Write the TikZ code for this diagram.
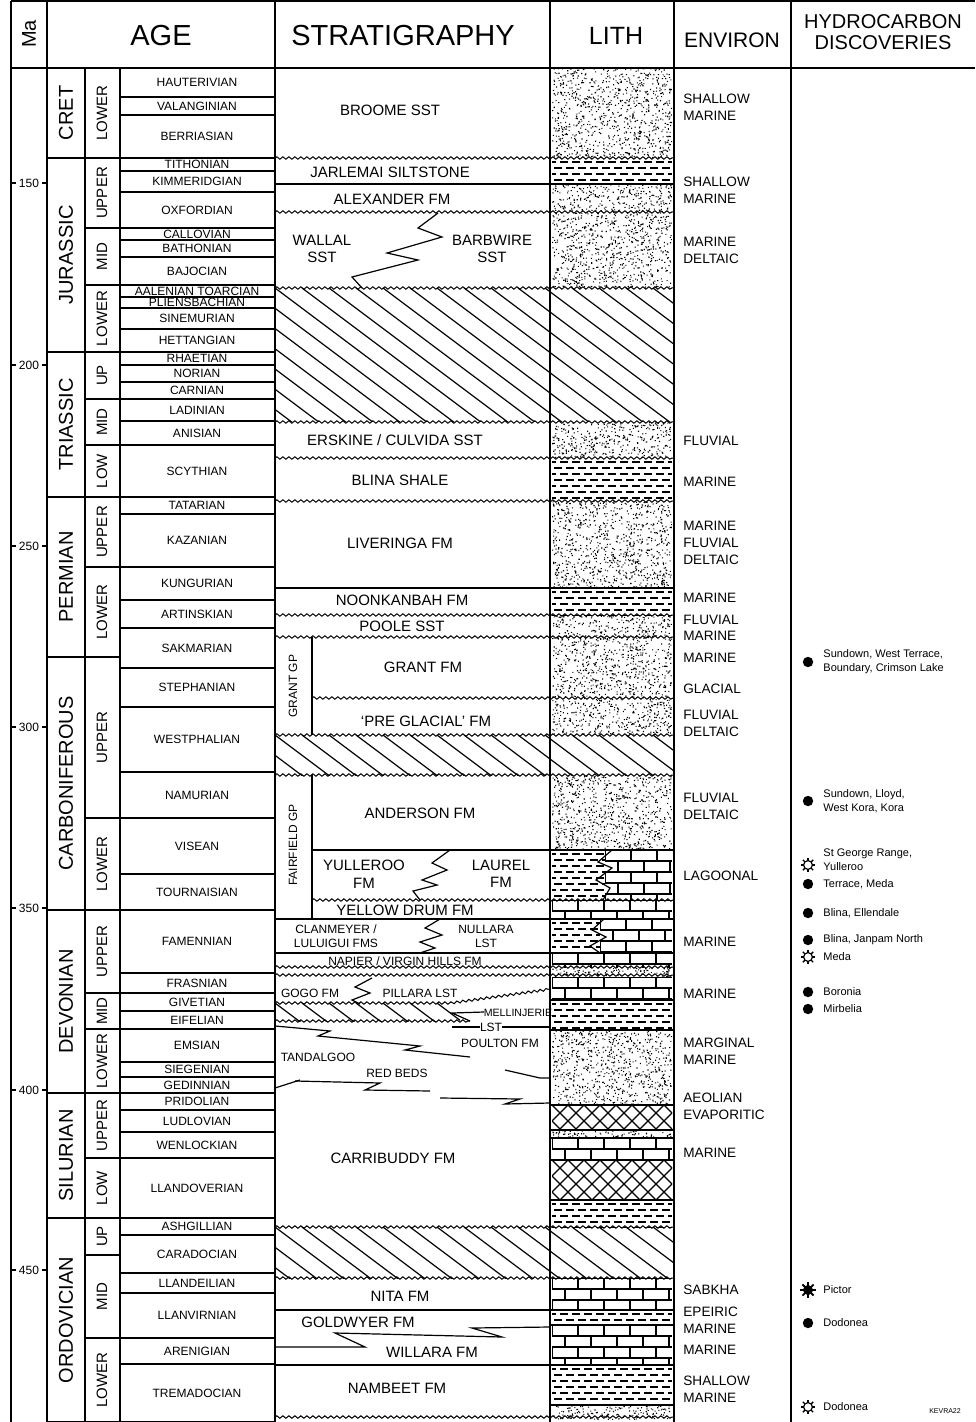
\documentclass[tikz,border=0pt]{standalone}
\usepackage{fontspec}
\setmainfont{Liberation Sans}
\usetikzlibrary{decorations.pathmorphing}
\usetikzlibrary{positioning}

% lithology fills (pixel units: x1, x2, y1, y2)
\newcommand\sandfill[4]{%
  \pgfmathtruncatemacro\ndots{(#2-#1)*(#4-#3)/12}%
  \fill \foreach \k in {1,...,\ndots}{%
    ({#1+(#2-#1-1)*rnd},{#3+(#4-#3-1)*rnd}) rectangle ++(1.1,1.1)};}
\newcommand\shalefill[4]{%
  \begin{scope}
    \clip (#1,#3) rectangle (#2,#4);
    \foreach \yy in {4,10,...,60}{%
      \draw[dash pattern=on 4pt off 2pt, line width=0.6pt] (#1-\yy,#3+\yy) -- (#2,#3+\yy);}
  \end{scope}}
\newcommand\limefill[4]{%
  \begin{scope}
    \clip (#1,#3) rectangle (#2,#4);
    \foreach \r in {0,...,5}{%
      \draw[line width=0.6pt] (#1,#3+\r*11) -- (#2,#3+\r*11);
      \foreach \c in {0,...,5}{%
        \draw[line width=0.6pt] ({#1+\c*26+mod(\r,2)*13},{#3+\r*11}) -- ++(0,11);}}
  \end{scope}}
\newcommand\evapfill[4]{%
  \begin{scope}
    \clip (#1,#3) rectangle (#2,#4);
    \foreach \c in {-3,...,11}{%
      \draw[line width=0.6pt] (#1+\c*16,#3) -- ++(60,60);
      \draw[line width=0.6pt] (#1+\c*16,#3) -- ++(-60,60);}
  \end{scope}}
\newcommand\hatchfill[4]{%
  \begin{scope}
    \clip (#1,#3) rectangle (#2,#4);
    \foreach \c in {-7,...,16}{%
      \draw[line width=0.6pt] (#1+\c*27,#3) -- ++(240,180);}
  \end{scope}}

\tikzset{
  oilmark/.pic={\fill (0,0) circle (2.6pt);},
  gasmark/.pic={\draw[line width=0.6pt] (0,0) circle (2.2pt);
    \foreach \a in {0,45,...,315}{\draw[line width=0.7pt] (\a:2.2pt) -- (\a:3.7pt);}},
  oilgasmark/.pic={\fill (0,0) circle (2.5pt);
    \foreach \a in {0,45,...,315}{\draw[line width=0.9pt] (\a:2.2pt) -- (\a:3.9pt);}}
}

\begin{document}
\begin{tikzpicture}[
    x=0.5pt, y=-0.5pt,
    % text styles
    headerstyle/.style={font=\fontsize{14.5}{15}\selectfont, inner sep=0pt},
    stagestyle/.style={font=\fontsize{6}{6.5}\selectfont, inner sep=0pt},
    erastyle/.style={font=\fontsize{10}{11}\selectfont, rotate=90, inner sep=0pt},
    epochstyle/.style={font=\fontsize{7.5}{8}\selectfont, rotate=90, inner sep=0pt},
    fmstyle/.style={font=\fontsize{7.5}{8.8}\selectfont, inner sep=0pt, align=center},
    smallfm/.style={font=\fontsize{6}{7}\selectfont, inner sep=0pt, align=center},
    envstyle/.style={font=\fontsize{6.8}{8.5}\selectfont, inner sep=0pt, align=left, anchor=west},
    hcstyle/.style={font=\fontsize{5.5}{7}\selectfont, inner sep=0pt, align=left, anchor=west},
    % line styles
    bound/.style={line width=0.6pt},
    thickbound/.style={line width=1.2pt},
    unconf/.style={decorate, decoration={snake, amplitude=0.6pt, segment length=3pt}, line width=0.5pt}
  ]

  \useasboundingbox (0,0) rectangle (975,1422);
  \fill[white] (0,0) rectangle (975,1422);
  \pgfmathsetseed{42}

  % =========================================================================
  % LITHOLOGY FILLS
  % =========================================================================
  \sandfill{552}{672}{68}{158}
  \shalefill{552}{672}{158}{184}
  \sandfill{552}{672}{184}{288}
  \hatchfill{275}{674}{288}{422}
  \sandfill{552}{672}{422}{458}
  \shalefill{552}{672}{458}{501}
  \sandfill{552}{672}{501}{588}
  \shalefill{552}{672}{588}{615}
  \sandfill{552}{672}{615}{735}
  \hatchfill{275}{674}{735}{775}
  \sandfill{552}{672}{775}{850}
  \shalefill{552}{605}{850}{900}
  \limefill{605}{672}{850}{900}
  \limefill{552}{672}{900}{919}
  \shalefill{552}{600}{919}{953}
  \limefill{600}{672}{919}{953}
  \limefill{552}{672}{953}{967}
  \sandfill{552}{672}{967}{977}
  \limefill{552}{672}{977}{1000}
  \shalefill{552}{672}{1000}{1030}
  \hatchfill{275}{460}{1003}{1021}
  \sandfill{552}{672}{1030}{1105}
  \evapfill{552}{672}{1105}{1130}
  \sandfill{552}{672}{1130}{1138}
  \limefill{552}{672}{1138}{1160}
  \evapfill{552}{672}{1160}{1200}
  \shalefill{552}{672}{1200}{1227}
  \hatchfill{275}{674}{1227}{1278}
  \limefill{552}{672}{1278}{1310}
  \shalefill{552}{672}{1310}{1325}
  \limefill{552}{672}{1325}{1365}
  \shalefill{552}{672}{1365}{1405}
  \sandfill{552}{672}{1405}{1420}

  % =========================================================================
  % FRAME AND HEADER
  % =========================================================================
  \draw[thickbound] (11,1) -- (975,1);
  \draw[thickbound] (11,68) -- (975,68);
  \draw[thickbound] (11,1) -- (11,1422);
  \draw[thickbound] (47,1) -- (47,1422);
  \draw[bound] (85,68) -- (85,1422);
  \draw[bound] (120,68) -- (120,1422);
  \draw[thickbound] (275,1) -- (275,1422);
  \draw[bound] (550,1) -- (550,1422);
  \draw[thickbound] (674,1) -- (674,1422);
  \draw[thickbound] (791,1) -- (791,1422);

  \node[rotate=90, font=\fontsize{10}{11}\selectfont, inner sep=0pt] (hma) at (29,34) {Ma};
  \node[headerstyle] (hage) at (161,36) {AGE};
  \node[headerstyle] (hstrat) at (403,36) {STRATIGRAPHY};
  \node[font=\fontsize{12.5}{13}\selectfont, inner sep=0pt] (hlith) at (616,36) {LITH};
  \node[font=\fontsize{10.5}{11}\selectfont, inner sep=0pt] (henv) at (732,40) {ENVIRON};
  \node[font=\fontsize{10}{10.5}\selectfont, inner sep=0pt, align=center] (hhc) at (883,32) {HYDROCARBON\\DISCOVERIES};

  % Ma scale
  \foreach \ma/\y in {150/183,200/365,250/546,300/727,350/908,400/1090,450/1270}{
    \draw[bound] (11,\y) -- (16,\y);
    \draw[bound] (42,\y) -- (47,\y);
    \node[font=\fontsize{6}{7}\selectfont, inner sep=0pt] (ma\ma) at (29,\y) {\ma};
  }

  % =========================================================================
  % AGE: PERIODS, EPOCHS, STAGES
  % =========================================================================
  \foreach \top/\bot/\name in {68/158/CRET, 158/352/JURASSIC, 352/497/TRIASSIC,
      497/657/PERMIAN, 657/910/CARBONIFEROUS, 910/1093/DEVONIAN,
      1093/1218/SILURIAN, 1218/1422/ORDOVICIAN}{
    \draw[thickbound] (47,\bot) -- (120,\bot);
    \node[erastyle] (era\bot) at (66,{(\top+\bot)/2}) {\name};
  }
  \foreach \top/\bot/\name in {68/158/LOWER, 158/228/UPPER, 228/285/MID, 285/352/LOWER,
      352/399/UP, 399/445/MID, 445/497/LOW, 497/567/UPPER, 567/657/LOWER,
      657/818/UPPER, 818/910/LOWER, 910/993/UPPER, 993/1029/MID, 1029/1093/LOWER,
      1093/1158/UPPER, 1158/1218/LOW, 1218/1255/UP, 1255/1338/MID, 1338/1422/LOWER}{
    \draw[thickbound] (85,\bot) -- (120,\bot);
    \node[epochstyle] (ep\bot) at (102,{(\top+\bot)/2}) {\name};
  }
  \foreach \top/\bot/\name in {68/97/HAUTERIVIAN, 97/115/VALANGINIAN, 115/158/BERRIASIAN,
      158/171/TITHONIAN, 171/192/KIMMERIDGIAN, 192/228/OXFORDIAN,
      228/240/CALLOVIAN, 240/257/BATHONIAN, 257/285/BAJOCIAN,
      285/297/AALENIAN TOARCIAN, 297/308/PLIENSBACHIAN, 308/329/SINEMURIAN, 329/352/HETTANGIAN,
      352/365/RHAETIAN, 365/382/NORIAN, 382/399/CARNIAN, 399/421/LADINIAN,
      421/445/ANISIAN, 445/497/SCYTHIAN, 497/514/TATARIAN, 514/567/KAZANIAN,
      567/600/KUNGURIAN, 600/628/ARTINSKIAN, 628/668/SAKMARIAN,
      668/707/STEPHANIAN, 707/772/WESTPHALIAN, 772/818/NAMURIAN, 818/874/VISEAN,
      874/910/TOURNAISIAN, 910/973/FAMENNIAN, 973/993/FRASNIAN, 993/1011/GIVETIAN,
      1011/1029/EIFELIAN, 1029/1062/EMSIAN, 1062/1077/SIEGENIAN, 1077/1093/GEDINNIAN,
      1093/1110/PRIDOLIAN, 1110/1132/LUDLOVIAN, 1132/1158/WENLOCKIAN,
      1158/1218/LLANDOVERIAN, 1218/1235/ASHGILLIAN, 1235/1273/CARADOCIAN,
      1273/1293/LLANDEILIAN, 1293/1338/LLANVIRNIAN, 1338/1364/ARENIGIAN,
      1364/1422/TREMADOCIAN}{
    \draw[bound] (120,\bot) -- (275,\bot);
    \node[stagestyle] (stg\bot) at (197,{(\top+\bot)/2}) {\name};
  }
  \foreach \y in {158,228,285,352,399,445,497,567,668,818,910,993,1029,1093,1158,1218,1338}{
    \draw[thickbound] (120,\y) -- (275,\y);
  }

  % =========================================================================
  % STRATIGRAPHY AND LITH CONTACTS
  % =========================================================================
  \foreach \y in {158,212,288,422,458,501,615,637,735,775,967,975,1227,1278,1417}{
    \draw[unconf] (275,\y) -- (674,\y);
  }
  \foreach \y in {698,900}{\draw[unconf] (312,\y) -- (674,\y);}
  \foreach \y in {184,588,919,1310,1365}{\draw[bound] (275,\y) -- (674,\y);}
  \draw[thickbound] (275,953) -- (674,953);
  \draw[bound] (312,850) -- (674,850);
  \foreach \y in {1000,1030,1105,1130,1138,1160,1200,1325,1405}{\draw[bound] (550,\y) -- (674,\y);}
  \draw[unconf] (275,1003) -- (450,1003) -- (550,989);
  \draw[unconf] (275,1021) -- (470,1021);

  % group columns
  \draw[bound] (312,637) -- (312,735);
  \draw[bound] (312,775) -- (312,919);
  \node[smallfm, rotate=90] (grantgp) at (293,686) {GRANT GP};
  \node[smallfm, rotate=90] (fairfieldgp) at (293,845) {FAIRFIELD GP};

  % interfingering contacts
  \draw[bound] (438,213) -- (418,228) -- (442,237) -- (387,253) -- (418,260) -- (352,277) -- (362,288);
  \draw[bound] (450,850) -- (432,863) -- (447,870) -- (422,880) -- (437,885) -- (413,891) -- (420,900);
  \draw[bound] (440,919) -- (425,928) -- (442,935) -- (420,942) -- (435,948) -- (420,953);
  \draw[bound] (372,978) -- (355,987) -- (370,993) -- (352,1000) -- (360,1004);
  \draw[bound] (470,1021) -- (452,1013) -- (484,1012);
  \draw[bound] (452,1027) -- (480,1027);
  \draw[bound] (502,1027) -- (550,1027);
  \draw[bound] (275,1026) -- (330,1031) -- (318,1036) -- (420,1046) -- (405,1050) -- (470,1057);
  \draw[bound] (505,1070) -- (540,1078) -- (550,1078);
  \draw[bound] (275,1088) -- (300,1080);
  \draw[bound] (295,1081) -- (380,1083) -- (365,1090) -- (430,1091);
  \draw[bound] (440,1098) -- (520,1099) -- (505,1104) -- (550,1103);
  \draw[bound] (275,1347) -- (365,1347) -- (335,1333) -- (502,1337) -- (472,1328) -- (550,1327);
  \draw[bound] (612,850) -- (598,862) -- (612,868) -- (596,880) -- (610,888) -- (603,900);
  \draw[bound] (604,919) -- (592,930) -- (606,937) -- (590,946) -- (600,953);

  % formation names
  \node[fmstyle] (broome) at (390,110) {BROOME SST};
  \node[fmstyle] (jarlemai) at (390,172) {JARLEMAI SILTSTONE};
  \node[fmstyle] (alexander) at (392,199) {ALEXANDER FM};
  \node[fmstyle] (wallal) at (322,249) {WALLAL\\SST};
  \node[fmstyle] (barbwire) at (492,249) {BARBWIRE\\SST};
  \node[fmstyle] (erskine) at (395,440) {ERSKINE / CULVIDA SST};
  \node[fmstyle] (blina) at (400,480) {BLINA SHALE};
  \node[fmstyle] (liveringa) at (400,543) {LIVERINGA FM};
  \node[fmstyle] (noonkanbah) at (402,600) {NOONKANBAH FM};
  \node[fmstyle] (poole) at (402,626) {POOLE SST};
  \node[fmstyle] (grantfm) at (423,667) {GRANT FM};
  \node[fmstyle] (preglacial) at (426,721) {`PRE GLACIAL' FM};
  \node[fmstyle] (anderson) at (420,813) {ANDERSON FM};
  \node[fmstyle] (yulleroo) at (364,874) {YULLEROO\\FM};
  \node[fmstyle] (laurel) at (501,874) {LAUREL\\FM};
  \node[fmstyle] (yellowdrum) at (405,910) {YELLOW DRUM FM};
  \node[smallfm] (clanmeyer) at (336,936) {CLANMEYER /\\LULUIGUI FMS};
  \node[smallfm] (nullara) at (486,936) {NULLARA\\LST};
  \node[smallfm] (napier) at (405,961) {NAPIER / VIRGIN HILLS FM};
  \node[smallfm] (gogo) at (310,993) {GOGO FM};
  \node[smallfm] (pillara) at (420,993) {PILLARA LST};
  \node[smallfm, font=\fontsize{5.3}{6}\selectfont] (mellinjerie) at (518,1013) {MELLINJERIE};
  \node[smallfm] (mellinlst) at (491,1027) {LST};
  \node[smallfm] (poulton) at (500,1043) {POULTON FM};
  \node[smallfm] (tandalgoo) at (318,1057) {TANDALGOO};
  \node[smallfm] (redbeds) at (397,1073) {RED BEDS};
  \node[fmstyle] (carribuddy) at (393,1158) {CARRIBUDDY FM};
  \node[fmstyle] (nita) at (400,1296) {NITA FM};
  \node[fmstyle] (goldwyer) at (358,1322) {GOLDWYER FM};
  \node[fmstyle] (willara) at (432,1352) {WILLARA FM};
  \node[fmstyle] (nambeet) at (397,1388) {NAMBEET FM};

  % =========================================================================
  % ENVIRONMENT
  % =========================================================================
  \foreach \y/\txt [count=\i] in {107/SHALLOW\\MARINE, 190/SHALLOW\\MARINE, 250/MARINE\\DELTAIC,
      441/FLUVIAL, 482/MARINE, 543/MARINE\\FLUVIAL\\DELTAIC, 598/MARINE, 620/FLUVIAL,
      636/MARINE, 658/MARINE, 689/GLACIAL, 723/FLUVIAL\\DELTAIC, 806/FLUVIAL\\DELTAIC,
      876/LAGOONAL, 942/MARINE, 994/MARINE, 1051/MARGINAL\\MARINE,
      1106/AEOLIAN\\EVAPORITIC, 1153/MARINE, 1290/SABKHA, 1320/EPEIRIC\\MARINE,
      1350/MARINE, 1389/SHALLOW\\MARINE}{
    \node[envstyle] (env\i) at (683,\y) {\txt};
  }

  % =========================================================================
  % HYDROCARBON DISCOVERIES
  % =========================================================================
  \pic at (808,662) {oilmark};
  \node[hcstyle] (hc1) at (823,662) {Sundown, West Terrace,\\Boundary, Crimson Lake};
  \pic at (808,801) {oilmark};
  \node[hcstyle] (hc2) at (823,801) {Sundown, Lloyd,\\West Kora, Kora};
  \pic at (808,865) {gasmark};
  \node[hcstyle] (hc3) at (823,860) {St George Range,\\Yulleroo};
  \pic at (808,884) {oilmark};
  \node[hcstyle] (hc4) at (823,884) {Terrace, Meda};
  \pic at (808,913) {oilmark};
  \node[hcstyle] (hc5) at (823,913) {Blina, Ellendale};
  \pic at (808,940) {oilmark};
  \node[hcstyle] (hc6) at (823,940) {Blina, Janpam North};
  \pic at (808,957) {gasmark};
  \node[hcstyle] (hc7) at (823,957) {Meda};
  \pic at (808,992) {oilmark};
  \node[hcstyle] (hc8) at (823,992) {Boronia};
  \pic at (808,1009) {oilmark};
  \node[hcstyle] (hc9) at (823,1009) {Mirbelia};
  \pic at (808,1290) {oilgasmark};
  \node[hcstyle] (hc10) at (823,1290) {Pictor};
  \pic at (808,1323) {oilmark};
  \node[hcstyle] (hc11) at (823,1323) {Dodonea};
  \pic at (808,1407) {gasmark};
  \node[hcstyle] (hc12) at (823,1407) {Dodonea};
  \node[font=\fontsize{3.5}{4}\selectfont, inner sep=0pt] (figcode) at (945,1411) {KEVRA22};

\end{tikzpicture}
\end{document}
